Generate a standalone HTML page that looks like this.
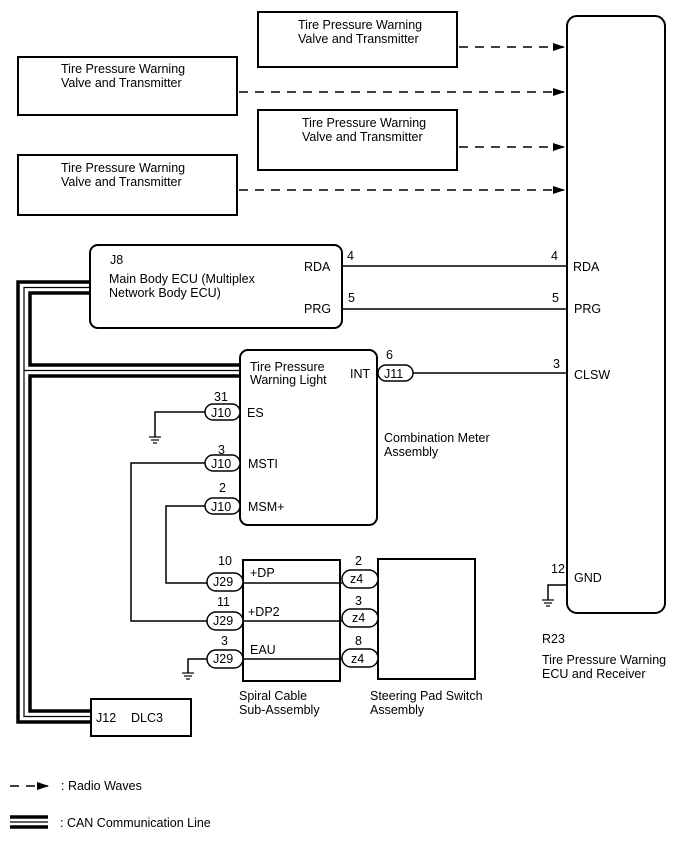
<!DOCTYPE html>
<html><head><meta charset="utf-8"><style>
html,body{margin:0;padding:0;background:#fff}
svg text{font-family:"Liberation Sans",Arial,sans-serif;font-size:12.5px;fill:#000}
</style></head><body>
<svg width="688" height="852" viewBox="0 0 688 852" xmlns="http://www.w3.org/2000/svg">
<defs><marker id="ar" markerWidth="12" markerHeight="8" refX="11" refY="4" orient="auto" markerUnits="userSpaceOnUse"><path d="M0,0 L12,4 L0,8 Z" fill="#000"/></marker></defs>
<g fill="none" stroke="#000" stroke-width="2">
<rect x="258" y="12" width="199" height="55"/>
<rect x="18" y="57" width="219" height="58"/>
<rect x="258" y="110" width="199" height="60"/>
<rect x="18" y="155" width="219" height="60"/>
<rect x="567" y="16" width="98" height="597" rx="10"/>
<rect x="90" y="245" width="252" height="83" rx="8"/>
<rect x="240" y="350" width="137" height="175" rx="8"/>
<rect x="243" y="560" width="97" height="121"/>
<rect x="378" y="559" width="97" height="120"/>
<rect x="91" y="699" width="100" height="37"/>
</g>
<g stroke="#000" stroke-width="1.5" stroke-dasharray="9,7" fill="none">
<line x1="459" y1="47" x2="564" y2="47" marker-end="url(#ar)"/>
<line x1="239" y1="92" x2="564" y2="92" marker-end="url(#ar)"/>
<line x1="459" y1="147" x2="564" y2="147" marker-end="url(#ar)"/>
<line x1="239" y1="190" x2="564" y2="190" marker-end="url(#ar)"/>
<line x1="10" y1="786" x2="48" y2="786" marker-end="url(#ar)"/>
</g>
<g stroke="#000" stroke-width="1.5" fill="none">
<line x1="342" y1="266" x2="567" y2="266"/>
<line x1="342" y1="309" x2="567" y2="309"/>
<line x1="413" y1="373" x2="567" y2="373"/>
<path d="M205,412 H155 V437"/>
<path d="M205,463 H131 V621 H207"/>
<path d="M205,506 H166 V583 H207"/>
<line x1="243" y1="583" x2="342" y2="583"/>
<line x1="243" y1="621" x2="342" y2="621"/>
<line x1="243" y1="659" x2="342" y2="659"/>
<path d="M207,659 H188 V673"/>
<path d="M567,585 H548 V600"/>
</g>
<g stroke="#000" stroke-width="1.2">
<line x1="149" y1="437" x2="161" y2="437"/><line x1="151" y1="440" x2="159" y2="440"/><line x1="153" y1="443" x2="157" y2="443"/>
<line x1="182" y1="673" x2="194" y2="673"/><line x1="184" y1="676" x2="192" y2="676"/><line x1="186" y1="679" x2="190" y2="679"/>
<line x1="542" y1="600" x2="554" y2="600"/><line x1="544" y1="603" x2="552" y2="603"/><line x1="546" y1="606" x2="550" y2="606"/>
</g>
<g fill="none" stroke="#000">
<path d="M90,282 H18 V722 H91" stroke-width="3.5"/>
<path d="M90,287.5 H24 V716.5 H91" stroke-width="1.2"/>
<path d="M90,293 H30 V365 H240" stroke-width="3.5"/>
<path d="M24,370.5 H240" stroke-width="1.2"/>
<path d="M240,376 H30 V711 H91" stroke-width="3.5"/>
<path d="M10,817 H48 M10,827 H48" stroke-width="3.5"/>
<path d="M10,822 H48" stroke-width="1.2"/>
</g>
<g fill="#fff" stroke="#000" stroke-width="1.5">
<rect x="378" y="365" width="35" height="16" rx="8"/>
<rect x="205" y="404" width="35" height="16" rx="8"/>
<rect x="205" y="455" width="35" height="16" rx="8"/>
<rect x="205" y="498" width="35" height="16" rx="8"/>
<rect x="207" y="573" width="36" height="18" rx="9"/>
<rect x="207" y="612" width="36" height="18" rx="9"/>
<rect x="207" y="650" width="36" height="18" rx="9"/>
<rect x="342" y="570" width="36" height="18" rx="9"/>
<rect x="342" y="609" width="36" height="18" rx="9"/>
<rect x="342" y="649" width="36" height="18" rx="9"/>
</g>
<text x="298" y="29">Tire Pressure Warning</text><text x="298" y="43">Valve and Transmitter</text>
<text x="61" y="73">Tire Pressure Warning</text><text x="61" y="87">Valve and Transmitter</text>
<text x="302" y="127">Tire Pressure Warning</text><text x="302" y="141">Valve and Transmitter</text>
<text x="61" y="172">Tire Pressure Warning</text><text x="61" y="186">Valve and Transmitter</text>
<text x="110" y="264">J8</text>
<text x="109" y="283">Main Body ECU (Multiplex</text><text x="109" y="297">Network Body ECU)</text>
<text x="304" y="271">RDA</text><text x="304" y="313">PRG</text>
<text x="347" y="260">4</text><text x="348" y="302">5</text>
<text x="551" y="260">4</text><text x="552" y="302">5</text>
<text x="573" y="271">RDA</text><text x="574" y="313">PRG</text>
<text x="386" y="359">6</text><text x="553" y="368">3</text><text x="574" y="379">CLSW</text>
<text x="384" y="378">J11</text><text x="350" y="378">INT</text>
<text x="250" y="371">Tire Pressure</text><text x="250" y="384">Warning Light</text>
<text x="384" y="442">Combination Meter</text><text x="384" y="456">Assembly</text>
<text x="214" y="401">31</text><text x="211" y="417">J10</text><text x="247" y="417">ES</text>
<text x="218" y="454">3</text><text x="211" y="468">J10</text><text x="248" y="468">MSTI</text>
<text x="219" y="492">2</text><text x="211" y="511">J10</text><text x="248" y="511">MSM+</text>
<text x="218" y="565">10</text><text x="213" y="586">J29</text><text x="250" y="577">+DP</text>
<text x="217" y="606">11</text><text x="213" y="625">J29</text><text x="248" y="616">+DP2</text>
<text x="221" y="645">3</text><text x="213" y="663">J29</text><text x="250" y="654">EAU</text>
<text x="355" y="565">2</text><text x="350" y="583">z4</text>
<text x="355" y="605">3</text><text x="352" y="622">z4</text>
<text x="355" y="645">8</text><text x="351" y="663">z4</text>
<text x="239" y="700">Spiral Cable</text><text x="239" y="714">Sub-Assembly</text>
<text x="370" y="700">Steering Pad Switch</text><text x="370" y="714">Assembly</text>
<text x="96" y="722">J12</text><text x="131" y="722">DLC3</text>
<text x="551" y="573">12</text><text x="574" y="582">GND</text>
<text x="542" y="643">R23</text>
<text x="542" y="664">Tire Pressure Warning</text><text x="542" y="678">ECU and Receiver</text>
<text x="61" y="790">: Radio Waves</text>
<text x="60" y="827">: CAN Communication Line</text>
</svg>
</body></html>
